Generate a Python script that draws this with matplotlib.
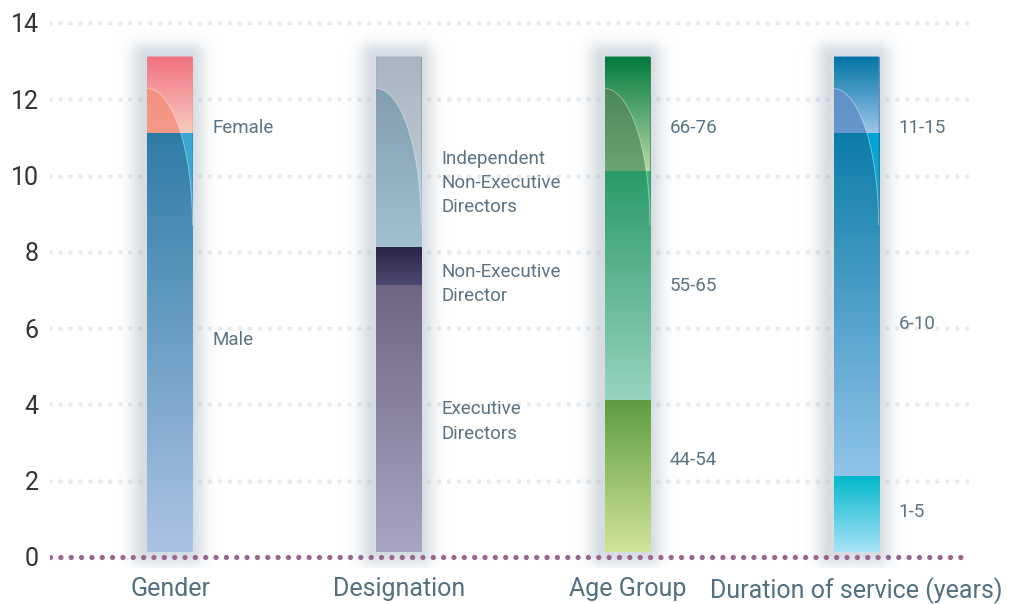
import numpy as np
import matplotlib
matplotlib.use("Agg")
import matplotlib.pyplot as plt
from matplotlib.colors import LinearSegmentedColormap, to_rgb
from matplotlib.patches import Polygon

# ---- data (stacked from bottom to top) ----
categories = ["Gender", "Designation", "Age Group", "Duration of service (years)"]
gender_labels = ["Male", "Female"]
gender_values = [11, 2]
designation_labels = ["Executive\nDirectors", "Non-Executive\nDirector",
                      "Independent\nNon-Executive\nDirectors"]
designation_values = [7, 1, 5]
age_labels = ["44-54", "55-65", "66-76"]
age_values = [4, 6, 3]
service_labels = ["1-5", "6-10", "11-15"]
service_values = [2, 9, 2]

# ---- styling ----
# (base top, base bottom, highlight top, highlight bottom) per segment
gender_colors = [("#2d7ca6", "#adc3e5", "#36a6d2", "#8ec0e4"),
                 ("#f28a7c", "#f59a88", "#f07080", "#f9ccc0")]
designation_colors = [("#6f6580", "#a9a5c5", "#6f6580", "#a9a5c5"),
                      ("#2c2446", "#4d4872", "#2c2446", "#4d4872"),
                      ("#7c98a8", "#a2c0d0", "#aab4c0", "#c4d6e0")]
age_colors = [("#5c9c40", "#d2e49a", "#5c9c40", "#d2e49a"),
              ("#2a9a68", "#98d4c0", "#40b07e", "#98d4c0"),
              ("#3e7a4e", "#6aa674", "#007a3e", "#b6d8a6")]
service_colors = [("#00b8cc", "#aae2f8", "#00b8cc", "#aae2f8"),
                  ("#0a7ca8", "#92c4ea", "#00a4d4", "#60b8e0"),
                  ("#5a8cc8", "#6896cc", "#0074a4", "#9cc6ea")]
# label anchor heights (layout only)
gender_ly = [5.7, 11.25]
designation_ly = [3.55, 7.15, 9.8]
age_ly = [2.55, 7.1, 11.25]
service_ly = [1.18, 6.1, 11.25]

BASE = 0.12          # bars float slightly above the zero line
BAR_W = 0.197
CURVE_TOP, CURVE_END = 12.28, 8.7
PX_X, PX_Y = 228.7, 38.14   # pixels per data unit
LABEL_COLOR = "#5b7384"

plt.rcParams["font.family"] = ["Roboto", "DejaVu Sans"]

fig = plt.figure(figsize=(10.13, 6.04), dpi=100)
ax = fig.add_axes([50/1013, 0.059, 920/1013, 0.9219])


def vgrad(ax, x0, x1, y0, y1, top, bottom, z, clip):
    cmap = LinearSegmentedColormap.from_list("g", [bottom, top])
    g = np.linspace(0, 1, 256).reshape(-1, 1)
    im = ax.imshow(g, extent=[x0, x1, y0, y1], origin="lower", cmap=cmap,
                   aspect="auto", interpolation="bicubic", zorder=z)
    im.set_clip_path(clip)


def shadow(ax, xc, y0, y1):
    xs = np.linspace(xc - 0.3, xc + 0.3, 160)
    ys = np.linspace(y0 - 1.2, y1 + 1.2, 300)
    X, Y = np.meshgrid(xs, ys)
    dx = np.maximum(np.abs(X - xc + 0.01) - BAR_W/2, 0)*PX_X
    dy = np.maximum(np.maximum(y0 - Y, Y - y1), 0)*PX_Y
    d = np.hypot(dx, dy)
    a = 0.36*np.exp(-(d/15.0)**2)
    rgba = np.zeros(X.shape + (4,))
    rgba[..., :3] = to_rgb("#8b9fae")
    rgba[..., 3] = a
    ax.imshow(rgba, extent=[xs[0], xs[-1], ys[0], ys[-1]], origin="lower",
              aspect="auto", interpolation="bilinear", zorder=2)


groups = [(gender_values, gender_labels, gender_colors, gender_ly),
          (designation_values, designation_labels, designation_colors, designation_ly),
          (age_values, age_labels, age_colors, age_ly),
          (service_values, service_labels, service_colors, service_ly)]

# dotted gridlines
for yv in range(2, 15, 2):
    ax.axhline(yv, color="#eaebed", lw=3.4, ls=(0, (0.01, 2.1)),
               dash_capstyle="round", zorder=1)

for i, (vals, labs, cols, lys) in enumerate(groups):
    total = sum(vals)
    shadow(ax, i, BASE, BASE + total)
    x0, x1 = i - BAR_W/2, i + BAR_W/2
    t = np.linspace(0, np.pi/2, 80)
    cx = x0 + BAR_W*np.cos(t)
    cy = CURVE_END + (CURVE_TOP - CURVE_END)*np.sin(t)
    top = BASE + total
    hl_xy = np.column_stack([np.r_[x0, x1, cx], np.r_[top, top, cy]])
    bars = ax.bar([i]*len(vals), vals, width=BAR_W,
                  bottom=BASE + np.r_[0, np.cumsum(vals)[:-1]],
                  color="none", edgecolor="none", zorder=3)
    for b, lab, (bt, bb, ht, hb), ly in zip(bars, labs, cols, lys):
        y0, y1 = b.get_y(), b.get_y() + b.get_height()
        vgrad(ax, x0, x1, y0, y1, bt, bb, 3, b)
        hp = Polygon(hl_xy, closed=True, transform=ax.transData)
        vgrad(ax, x0, x1, y0, y1, ht, hb, 3.1, hp)
        ax.text(i + 0.186, ly, lab, color=LABEL_COLOR, fontsize=13.5,
                va="center", ha="left", linespacing=1.45)
    ax.plot(cx, cy, color="white", lw=0.7, alpha=0.4, zorder=3.2)

# zero line
ax.axhline(0, color="#9a6690", lw=3.8, ls=(0, (0.01, 1.95)),
           dash_capstyle="round", zorder=4)

ax.set_xlim(-0.5247, 3.498)
ax.set_ylim(-0.3, 14.3)
ax.set_yticks(range(0, 15, 2))
ax.set_yticklabels([str(v) for v in range(0, 15, 2)], fontsize=18,
                   color="#333333")
ax.set_xticks(range(len(categories)))
ax.set_xticklabels(categories, fontsize=18, color="#52707f")
ax.tick_params(axis="both", length=0)
ax.tick_params(axis="y", pad=8)
ax.tick_params(axis="x", pad=6)
for s in ax.spines.values():
    s.set_visible(False)

fig.savefig("out.png", dpi=100)
